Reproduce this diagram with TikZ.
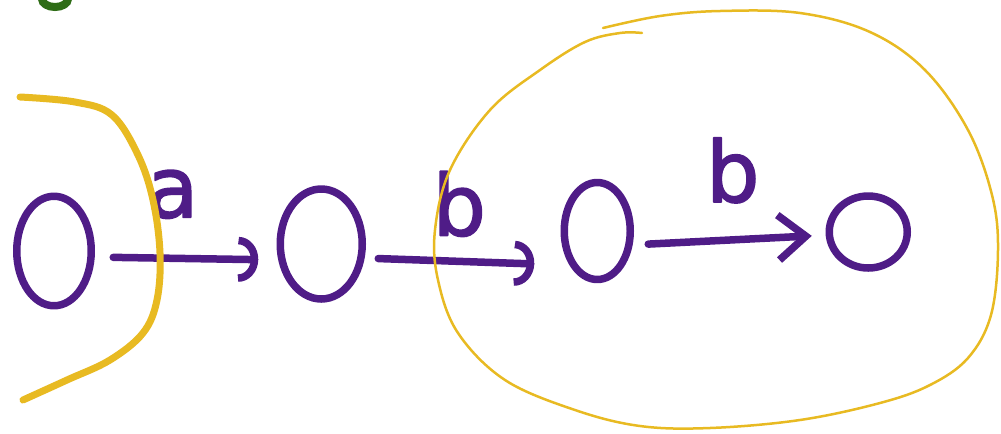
\documentclass[tikz,border=0pt]{standalone}
\usepackage{fontspec}
\newfontfamily\handfont[FakeBold=2]{DejaVu Sans}
\usetikzlibrary{arrows.meta,shapes.geometric,positioning}
\definecolor{inkpurple}{RGB}{79,28,135}
\definecolor{inkyellow}{RGB}{232,186,34}
\definecolor{inkgreen}{RGB}{46,108,22}
\tikzset{
  >=Latex,
  ink/.style={line width=1.5mm, line cap=round, line join=round, draw=inkpurple},
  statenode/.style={ellipse, ink, inner sep=0pt, outer sep=0pt},
  trans/.style={ink, -{Arc Barb[length=4mm,width=9mm]}},
  transs/.style={ink, -{Straight Barb[length=5.5mm,width=9mm]}},
  lbl/.style={text=inkpurple, font=\handfont\fontsize{48}{48}\selectfont, inner sep=0pt},
  marker/.style={draw=inkyellow, line cap=round, line join=round}
}
\begin{document}
\begin{tikzpicture}[x=0.2mm, y=-0.2mm]
\useasboundingbox (0,0) rectangle (1001,433);

% green mark, cut by the top edge
\draw[inkgreen, line width=1.6mm] (55,-1) ellipse [x radius=13, y radius=8];

% 1 : states
\node[statenode, minimum width=14.9mm, minimum height=21.9mm] (s1) at (54,251) {};
\node[statenode, minimum width=16.4mm, minimum height=22mm, right=37.8mm of s1, yshift=1.4mm] (s2) {};
\node[statenode, minimum width=13.2mm, minimum height=19.4mm, right=40.4mm of s2, yshift=2.6mm] (s3) {};
\node[statenode, minimum width=15.6mm, minimum height=14.4mm, right=39.8mm of s3, yshift=-0.2mm] (s4) {};

% 2 : transitions
\draw[trans, shorten <=4.4mm, shorten >=4.4mm] ([yshift=-1.2mm]s1.east) -- node[lbl, pos=0.43, above=7.2mm] (la) {a} ([yshift=-3.2mm]s2.west);
\draw[trans, shorten <=3.2mm, shorten >=6mm] ([yshift=-2.8mm]s2.east) -- node[lbl, pos=0.48, above=4.2mm] (lb) {b} ([yshift=-6.8mm]s3.west);
\draw[transs, shorten <=3.6mm, shorten >=3.5mm] ([yshift=-2.8mm]s3.east) -- node[lbl, pos=0.515, above=6.6mm] (lc) {b} ([yshift=-0.6mm]s4.west);

% 3 : yellow strokes
\draw[marker, line width=1.4mm] plot[smooth, tension=0.6] coordinates {(20,97) (75,102) (112,115) (138,155) (153,200) (160,253) (157,300) (143,333) (110,360) (67,380) (23,400)};
\draw[marker, line width=0.5mm] plot[smooth, tension=0.6] coordinates {(603,28) (660,16) (720,11) (800,13) (870,32) (925,70) (968,130) (992,195) (998,250) (991,315) (968,358) (930,385) (880,403) (800,420) (710,428) (640,426) (575,410) (505,380) (458,333) (438,280) (435,230) (450,170) (490,110) (540,70) (585,42) (620,33) (642,33)};

\end{tikzpicture}
\end{document}
